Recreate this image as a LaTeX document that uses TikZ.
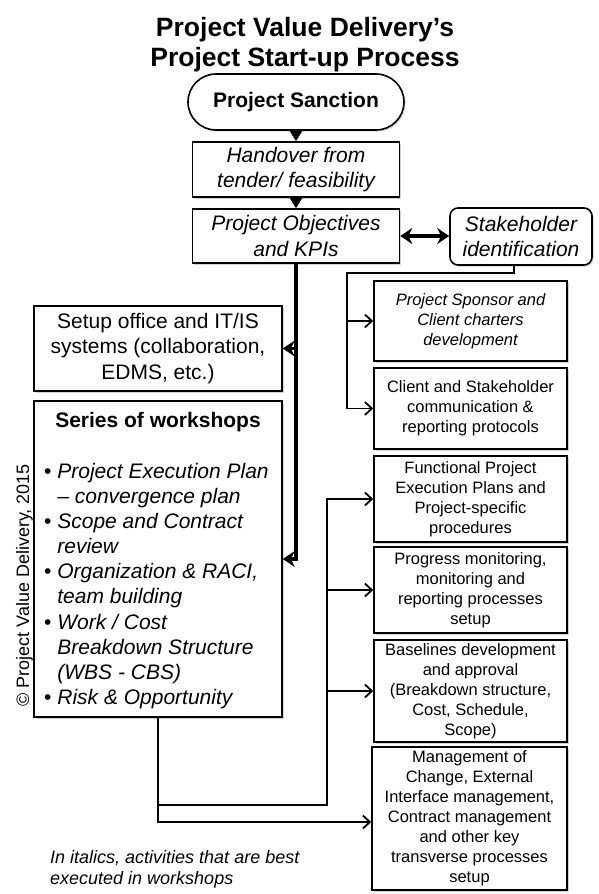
\documentclass[tikz,border=0pt]{standalone}
\usepackage{fontspec}
\setmainfont{Liberation Sans}
\usetikzlibrary{arrows.meta,shadows}
\begin{document}
\begin{tikzpicture}[x=1pt,y=-1pt,
  box/.style={draw=black,line width=1.6pt,fill=white,align=center,inner sep=2pt,
    drop shadow={shadow xshift=1.5pt,shadow yshift=-1.5pt,opacity=0.35}},
  bigtxt/.style={font=\fontsize{21}{25.5}\selectfont},
  smalltxt/.style={font=\fontsize{16.5}{20}\selectfont},
  thickarrow/.style={line width=2.2pt,-{Triangle[width=13pt,length=11pt]}},
  mainline/.style={line width=3.4pt,-{Stealth[width=16pt,length=12pt,inset=4pt]}},
  dblarrow/.style={line width=3.4pt,{Stealth[width=16pt,length=12pt,inset=4pt]}-{Stealth[width=16pt,length=12pt,inset=4pt]}},
  thinline/.style={line width=1.8pt},
  thinarrow/.style={line width=1.8pt,-{Straight Barb[width=13pt,length=7pt,line width=1.8pt]}}
]
\useasboundingbox (0,0) rectangle (598,894);

% title
\node[anchor=base,font=\fontsize{26.5}{30}\selectfont\bfseries] (title1) at (305,36) {Project Value Delivery’s};
\node[anchor=base,font=\fontsize{26.5}{30}\selectfont\bfseries] (title2) at (305,66) {Project Start-up Process};

% top chain
\node[box,rounded corners=28pt,minimum width=216pt,minimum height=56pt,font=\fontsize{21}{25}\selectfont\bfseries] (sanction) at (296,102) {Project Sanction};
\node[box,bigtxt,minimum width=207pt,minimum height=55pt] (handover) at (296,169.5) {\itshape Handover from\\\itshape tender/ feasibility};
\node[box,bigtxt,minimum width=207pt,minimum height=54pt] (objectives) at (296,236) {\itshape Project Objectives\\\itshape and KPIs};
\node[box,bigtxt,rounded corners=8pt,minimum width=142pt,minimum height=57pt] (stakeholder) at (521,236.5) {\itshape Stakeholder\\\itshape identification};

% left boxes
\node[box,bigtxt,minimum width=248pt,minimum height=85pt] (setup) at (158,348.5) {Setup office and IT/IS\\systems (collaboration,\\EDMS, etc.)};
\node[box,minimum width=248pt,minimum height=316pt] (series) at (158,559) {};
\node[anchor=base,font=\fontsize{21}{25}\selectfont\bfseries] (serieshead) at (158,427.5) {Series of workshops};
\node[anchor=west,align=left,inner sep=0pt,font=\fontsize{21}{25.1}\selectfont] (serieslist) at (44,586) {%
\textbullet\ \textit{Project Execution Plan}\\
\hphantom{\textbullet\ }\textit{– convergence plan}\\
\textbullet\ \textit{Scope and Contract}\\
\hphantom{\textbullet\ }\textit{review}\\
\textbullet\ \textit{Organization \& RACI,}\\
\hphantom{\textbullet\ }\textit{team building}\\
\textbullet\ \textit{Work / Cost}\\
\hphantom{\textbullet\ }\textit{Breakdown Structure}\\
\hphantom{\textbullet\ }\textit{(WBS - CBS)}\\
\textbullet\ \textit{Risk \& Opportunity}};

% right boxes
\node[box,smalltxt,minimum width=193pt,minimum height=80pt] (sponsor) at (470.5,321) {\itshape Project Sponsor and\\\itshape Client charters\\\itshape development};
\node[box,smalltxt,minimum width=193pt,minimum height=81pt] (client) at (470.5,408.5) {Client and Stakeholder\\communication \&\\reporting protocols};
\node[box,smalltxt,minimum width=193pt,minimum height=86pt] (functional) at (470.5,499) {Functional Project\\Execution Plans and\\Project-specific\\procedures};
\node[box,smalltxt,minimum width=193pt,minimum height=86pt] (progress) at (470.5,590) {Progress monitoring,\\monitoring and\\reporting processes\\setup};
\node[box,smalltxt,minimum width=193pt,minimum height=102pt] (baselines) at (470.5,691) {Baselines development\\and approval\\(Breakdown structure,\\Cost, Schedule,\\Scope)};
\node[box,smalltxt,minimum width=195pt,minimum height=143pt] (mgmt) at (469.5,818.5) {Management of\\Change, External\\Interface management,\\Contract management\\and other key\\transverse processes\\setup};

% copyright and note
\node[rotate=90,anchor=base,font=\fontsize{18}{21}\selectfont] (copy) at (29,585.5) {© Project Value Delivery, 2015};
\node[anchor=west,align=left,inner sep=0pt,font=\fontsize{18}{21}\selectfont\itshape] (note) at (50,869.5) {In italics, activities that are best\\executed in workshops};

% connectors
\draw[thickarrow] (sanction.south) -- (handover.north);
\draw[thickarrow] (handover.south) -- (objectives.north);
\draw[dblarrow] (objectives.east) -- (objectives.east -| stakeholder.west);
\draw[mainline] (objectives.south) |- (series.east);
\draw[mainline] (objectives.south |- setup.east) -- (setup.east);

\coordinate (s0) at (514,273);
\coordinate (s1) at (347,273);
\draw[thinarrow] (s0 |- stakeholder.south) -- (s0) -- (s1) |- (client.west);
\draw[thinarrow] (s1 |- sponsor.west) -- (sponsor.west);

\coordinate (b0) at (158,822);
\coordinate (b1) at (158,805);
\coordinate (b2) at (327,805);
\draw[thinarrow] (series.south) -- (b0) -- (b0 -| mgmt.west);
\draw[thinarrow] (b1) -- (b2) |- (functional.west);
\draw[thinarrow] (b2 |- progress.west) -- (progress.west);
\draw[thinarrow] (b2 |- baselines.west) -- (baselines.west);
\end{tikzpicture}
\end{document}
